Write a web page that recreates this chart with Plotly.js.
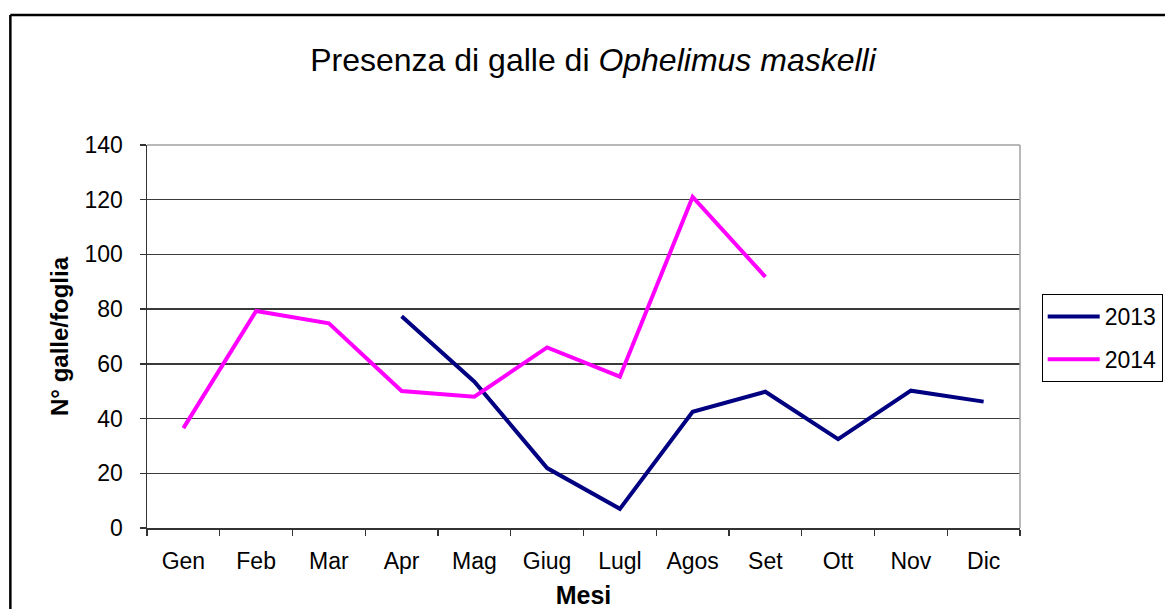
<!DOCTYPE html>
<html>
<head>
<meta charset="utf-8">
<script src="https://cdn.plot.ly/plotly-3.0.1.min.js"></script>
<style>html,body{margin:0;padding:0;background:#fff;}#chart{width:1165px;height:609px;}</style>
</head>
<body>
<div id="chart"></div>
<script>
const months = ["Gen","Feb","Mar","Apr","Mag","Giug","Lugl","Agos","Set","Ott","Nov","Dic"];
const values2013 = [null,null,null,77.4,53.5,21.9,7.0,42.5,49.8,32.5,50.2,46.2];
const values2014 = [36.5,79.3,74.8,50.1,48.0,66.0,55.3,121.0,91.8,null,null,null];
const yTicks = [0,20,40,60,80,100,120,140];

const font = "Liberation Sans, Arial, sans-serif";
const traces = [
  {x: months, y: values2013, name: "2013", type: "scatter", mode: "lines", legendgroup: "a",
   line: {color: "#000080", width: 4}, connectgaps: false},
  {x: months, y: values2014, name: "2014", type: "scatter", mode: "lines", legendgroup: "b",
   line: {color: "#FF00FF", width: 4}, connectgaps: false}
];
const layout = {
  width: 1165, height: 609,
  margin: {l: 147.3, r: 145, t: 144.5, b: 80.7},
  paper_bgcolor: "#ffffff", plot_bgcolor: "#ffffff",
  font: {family: font, color: "#000", size: 23},
  showlegend: true,
  title: {text: "Presenza di galle di <i>Ophelimus maskelli</i>", font: {family: font, size: 32, color: "#000"},
          x: 593/1165, xanchor: "center", y: 1 - 60/609, yanchor: "middle"},
  xaxis: {type: "category", categoryorder: "array", categoryarray: months,
          tickson: "boundaries", ticks: "outside", ticklen: 6, tickcolor: "#333", tickwidth: 1.3,
          showline: true, linecolor: "#333", linewidth: 1.5, showgrid: false, zeroline: false,
          tickfont: {family: font, size: 23}, range: [-0.5, 11.5], ticklabelstandoff: 12,
          title: {text: "<b>Mesi</b>", font: {family: font, size: 25}, standoff: 14}},
  yaxis: {range: [0, 140], tickvals: yTicks, ticktext: yTicks.map(String),
          ticks: "outside", ticklen: 6, tickcolor: "#333", tickwidth: 1.3,
          showline: true, linecolor: "#333", linewidth: 1.5,
          showgrid: true, gridcolor: "#3a3a3a", gridwidth: 1.3, zeroline: false,
          tickfont: {family: font, size: 23}, ticklabelstandoff: 12,
          title: {text: "<b>N° galle/foglia</b>", font: {family: font, size: 24}, standoff: 9}},
  legend: {x: 1041.7/1165, y: 1 - 294/609, xref: "container", yref: "container",
           xanchor: "left", yanchor: "top", bordercolor: "#000", borderwidth: 1,
           traceorder: "grouped", tracegroupgap: 10,
           bgcolor: "#fff", font: {family: font, size: 23}, itemwidth: 52},
  shapes: [
    {type: "line", xref: "paper", yref: "paper", x0: 0, x1: 1, y0: 1, y1: 1, line: {color: "#a0a0a0", width: 1.5}},
    {type: "line", xref: "paper", yref: "paper", x0: 1, x1: 1, y0: 0, y1: 1, line: {color: "#a0a0a0", width: 1.5}},
    {type: "line", xref: "paper", yref: "paper", x0: (10.7-147.3)/872.7, x1: 1.2, y0: (528.3-14.3)/383.8, y1: (528.3-14.3)/383.8, line: {color: "#000", width: 2.5}},
    {type: "line", xref: "paper", yref: "paper", x0: (10.7-147.3)/872.7, x1: (10.7-147.3)/872.7, y0: (528.3-14.3)/383.8, y1: -0.3, line: {color: "#000", width: 2.5}}
  ]
};
Plotly.newPlot("chart", traces, layout, {displayModeBar: false, staticPlot: true});
</script>
</body>
</html>
